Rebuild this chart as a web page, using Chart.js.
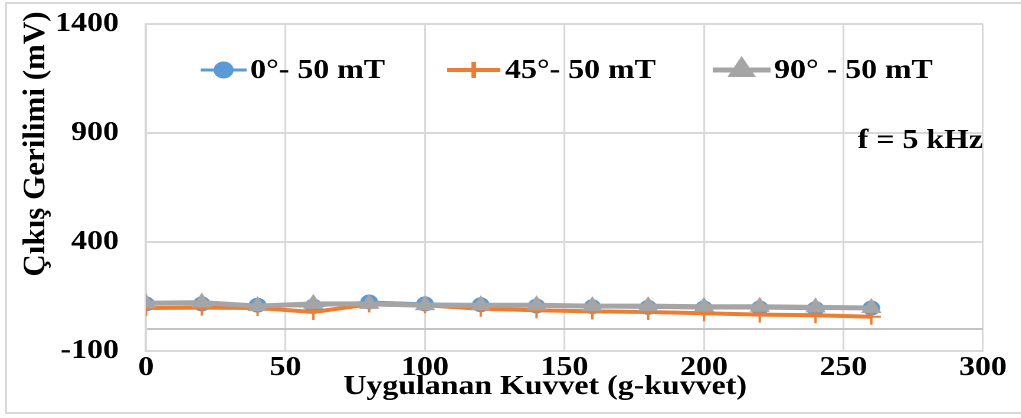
<!DOCTYPE html>
<html>
<head>
<meta charset="utf-8">
<script src="https://cdn.jsdelivr.net/npm/chart.js@4/dist/chart.umd.min.js"></script>
<style>
  html, body { margin: 0; padding: 0; background: #ffffff; }
  body { width: 1021px; height: 418px; position: relative; overflow: hidden; }
  #frame { position: absolute; left: 5px; top: 2px; width: 1016px; height: 412px;
           border: 2px solid #d9d9d9; box-sizing: border-box; border-right: none; }
  #wrap { position: absolute; left: 0; top: 0; width: 865px; height: 418px;
          transform: scaleX(1.18); transform-origin: 0 0; }
</style>
</head>
<body>
<div id="frame"></div>
<div id="wrap"><canvas id="c" width="865" height="418"></canvas></div>
<script>
// Applied force (g-force) and output voltage (mV) for each field orientation
const forces = [0, 20, 40, 60, 80, 100, 120, 140, 160, 180, 200, 220, 240, 260];
const volt0deg  = [116, 116, 110, 106, 125, 116, 112, 106, 103, 100, 97, 97, 94, 97];
const volt45deg = [97, 99, 97, 79, 114, 110, 94, 87, 82, 79, 73, 67, 64, 57];
const volt90deg = [119, 122, 106, 116, 116, 110, 110, 110, 106, 106, 103, 103, 100, 97];

const seriesNames = ['0°- 50 mT', '45°- 50 mT', '90° - 50 mT'];
const yTickValues = [-100, 0, 400, 900, 1400];
const yTickLabels = ['-100', '', '400', '900', '1400'];
const xTickValues = [0, 50, 100, 150, 200, 250, 300];

const xTitle = 'Uygulanan Kuvvet (g-kuvvet)';
const yTitle = 'Çıkış Gerilimi (mV)';
const note = 'f = 5 kHz';

const FONT = "'Liberation Serif', 'Times New Roman', serif";
const GRID = '#d9d9d9';
const STRETCH = 1.18;

const toPoints = vals => forces.map((f, i) => ({ x: f, y: vals[i] }));

// legend geometry: [line start, line end, text start]
const legendSlots = [[170, 209, 212], [379, 424, 428], [604, 653, 656]];
const legendY = 70;

const overlay = {
  id: 'overlay',
  afterDraw(chart) {
    const ctx = chart.ctx;
    const area = chart.chartArea;
    ctx.save();
    ctx.fillStyle = '#000';
    ctx.font = 'bold 27px ' + FONT;
    // legend
    chart.data.datasets.forEach((ds, i) => {
      const [x1, x2, tx] = legendSlots[i];
      ctx.strokeStyle = ds.borderColor;
      ctx.lineWidth = ds.borderWidth;
      ctx.beginPath();
      ctx.moveTo(x1, legendY);
      ctx.lineTo(x2, legendY);
      ctx.stroke();
      ctx.fillStyle = ds.pointBackgroundColor;
      ctx.strokeStyle = ds.pointBorderColor;
      Chart.helpers.drawPoint(ctx, {
        pointStyle: ds.pointStyle, radius: ds.pointRadius,
        borderWidth: ds.pointBorderWidth, rotation: 0
      }, (x1 + x2) / 2, legendY);
      ctx.fillStyle = '#000';
      ctx.textAlign = 'left';
      ctx.textBaseline = 'middle';
      ctx.fillText(ds.label, tx, legendY + 1);
    });
    // frequency note
    ctx.textAlign = 'right';
    ctx.textBaseline = 'middle';
    ctx.fillText(note, area.right, 141);
    // x axis title
    ctx.textAlign = 'center';
    ctx.fillText(xTitle, 462, 387);
    // y axis title (rotated, kept at its natural width)
    ctx.save();
    ctx.translate(30.5, 144);
    ctx.scale(1 / STRETCH, 1);
    ctx.rotate(-Math.PI / 2);
    ctx.font = 'bold 31px ' + FONT;
    ctx.fillText(yTitle, 0, 0);
    ctx.restore();
    ctx.restore();
  }
};

const palette = [
  { color: '#5b9bd5', width: 3, style: 'circle', r: 7, bw: 1 },
  { color: '#ed7d31', width: 4, style: 'cross', r: 8, bw: 2 },
  { color: '#a5a5a5', width: 5, style: 'triangle', r: 9, bw: 1 }
];
const values = [volt0deg, volt45deg, volt90deg];
const drawOrder = [3, 2, 1];

new Chart(document.getElementById('c'), {
  type: 'line',
  data: {
    datasets: values.map((v, i) => ({
      label: seriesNames[i],
      data: toPoints(v),
      borderColor: palette[i].color,
      backgroundColor: palette[i].color,
      borderWidth: palette[i].width,
      pointStyle: palette[i].style,
      pointRadius: palette[i].r,
      pointBorderWidth: palette[i].bw,
      pointBackgroundColor: palette[i].color,
      pointBorderColor: palette[i].color,
      tension: 0,
      order: drawOrder[i]
    }))
  },
  options: {
    responsive: false,
    animation: false,
    devicePixelRatio: 2,
    layout: { padding: { left: 0, right: 32, top: 24, bottom: 0 } },
    plugins: { legend: { display: false }, tooltip: { enabled: false } },
    scales: {
      x: {
        type: 'linear',
        min: 0, max: 300,
        afterFit(scale) {
          scale.height = 67;
          scale.paddingLeft = 0;
          scale.paddingRight = 0;
        },
        afterBuildTicks(scale) { scale.ticks = xTickValues.map(v => ({ value: v })); },
        grid: { color: GRID, lineWidth: 1.6, drawTicks: false },
        border: { color: GRID, width: 2 },
        ticks: {
          padding: 1,
          color: '#000',
          maxRotation: 0,
          font: { family: FONT, size: 27, weight: 'bold' },
          callback: v => String(v)
        }
      },
      y: {
        min: -100, max: 1400,
        afterFit(scale) {
          scale.width = 123.7;
          scale.paddingTop = 0;
          scale.paddingBottom = 0;
        },
        afterBuildTicks(scale) { scale.ticks = yTickValues.map(v => ({ value: v })); },
        grid: {
          color: c => (c.tick && c.tick.value === 0 ? '#c4c4c4' : GRID),
          lineWidth: 2,
          drawTicks: false
        },
        border: { color: GRID, width: 2 },
        ticks: {
          padding: 23,
          color: '#000',
          font: { family: FONT, size: 27, weight: 'bold' },
          callback: v => yTickLabels[yTickValues.indexOf(v)]
        }
      }
    }
  },
  plugins: [overlay]
});
</script>
</body>
</html>
